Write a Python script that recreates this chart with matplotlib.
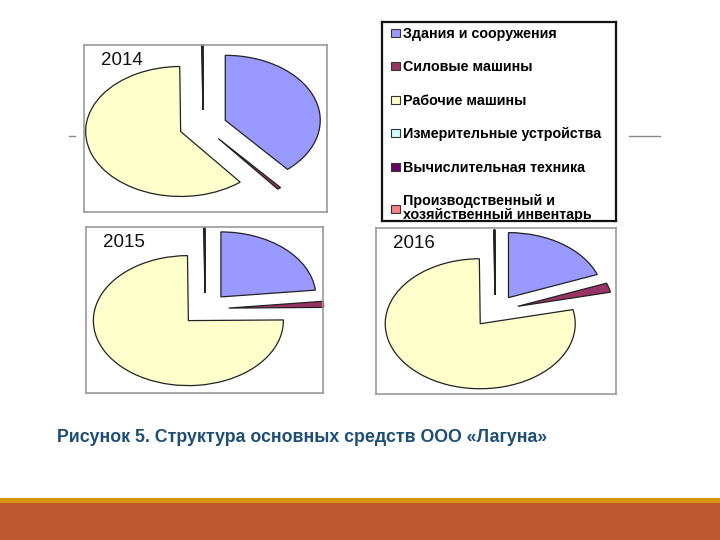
import matplotlib
matplotlib.use('Agg')
from matplotlib import pyplot as plt
from matplotlib.patches import Rectangle
from matplotlib.lines import Line2D

plt.rcParams['font.family'] = ['Liberation Sans', 'DejaVu Sans']

categories = ['Здания и сооружения', 'Силовые машины', 'Рабочие машины',
              'Измерительные устройства', 'Вычислительная техника',
              'Производственный и\nхозяйственный инвентарь']
colors = ['#9999FF', '#993366', '#FFFFCC', '#CCFFFF', '#660066', '#FF8080']
years = ['2014', '2015', '2016']
share2014 = [38.6, 0.6, 60.6, 0.05, 0.05, 0.05]
share2015 = [23.3, 1.5, 74.9, 0.05, 0.05, 0.05]
share2016 = [19.2, 2.3, 78.3, 0.05, 0.05, 0.05]
caption = 'Рисунок 5. Структура основных средств ООО «Лагуна»'

W, H = 720, 540
fig = plt.figure(figsize=(7.2, 5.4), dpi=100)

def rect(x0, y0, x1, y1):
    return [x0 / W, 1 - y1 / H, (x1 - x0) / W, (y1 - y0) / H]

# panel box (px), pie centre (px)
panels = [
    ((84, 45, 327, 212), (203, 126), share2014),
    ((86, 227, 323, 393), (205, 309), share2015),
    ((376, 228, 616, 394), (495, 311), share2016),
]
rx, ry = 95, 65

for (box, (cx, cy), vals), yr in zip(panels, years):
    x0, y0, x1, y1 = box
    ax = fig.add_axes(rect(*box))
    ax.pie(vals, colors=colors, startangle=90, counterclock=False,
           explode=[0.25] * len(vals),
           wedgeprops=dict(edgecolor='#222222', linewidth=0.9))
    ax.set_aspect('auto')
    ax.set_xlim((x0 - cx) / rx, (x1 - cx) / rx)
    ax.set_ylim((cy - y1) / ry, (cy - y0) / ry)
    ax.set_frame_on(True)
    for s in ax.spines.values():
        s.set_color('#9a9a9a')
        s.set_linewidth(1.2)
    ax.set_xticks([])
    ax.set_yticks([])
    ax.text(0.07, 0.905, yr, transform=ax.transAxes, fontsize=13.5,
            color='#111111', va='center', ha='left')

# legend box
lax = fig.add_axes(rect(382, 22, 616, 221))
lax.set_xticks([])
lax.set_yticks([])
for s in lax.spines.values():
    s.set_color('#111111')
    s.set_linewidth(1.6)
handles = [Rectangle((0, 0), 1, 1, facecolor=c, edgecolor='#333333', linewidth=0.8)
           for c in colors]
leg = lax.legend(handles, categories, loc='upper left', bbox_to_anchor=(-0.015, 1.04),
                 frameon=False, handlelength=0.6, handleheight=0.5,
                 handletextpad=0.2, labelspacing=1.36,
                 prop=dict(weight='bold', size=10.3))
for t in leg.get_texts():
    t.set_linespacing(1.0)

fig.text(57 / W, 1 - 437 / H, caption, fontsize=12.8, fontweight='bold',
         color='#1d4e76', va='center', ha='left')

# stray slide lines
fig.add_artist(Line2D([629 / W, 660 / W], [1 - 136 / H] * 2, color='#8a8a8a', lw=1))
fig.add_artist(Line2D([69 / W, 75 / W], [1 - 136 / H] * 2, color='#8a8a8a', lw=1))

# bottom bars
fig.add_artist(Rectangle((0, 0), 1, 1 - 503 / H, transform=fig.transFigure,
                         facecolor='#BE592F', edgecolor='none'))
fig.add_artist(Rectangle((0, 1 - 503 / H), 1, 5 / H, transform=fig.transFigure,
                         facecolor='#D8940E', edgecolor='none'))

fig.savefig('out.png', dpi=100)
